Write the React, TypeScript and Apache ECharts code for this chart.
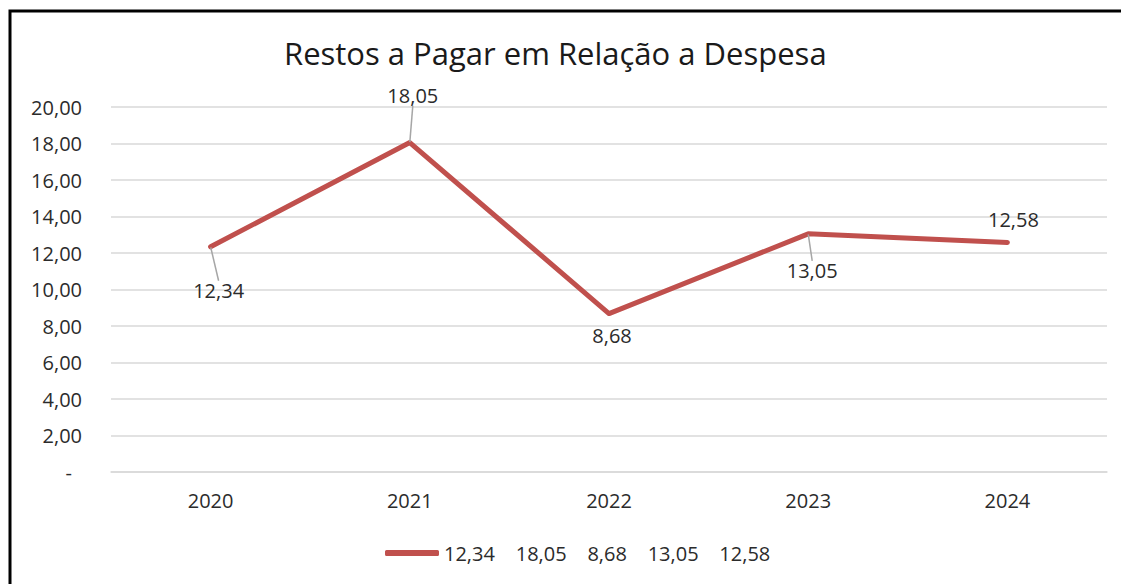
import React, { useEffect, useRef } from "react";
import * as echarts from "echarts";

const titleText = "Restos a Pagar em Relação a Despesa";
const categories = ["2020", "2021", "2022", "2023", "2024"];
const values = [12.34, 18.05, 8.68, 13.05, 12.58];
const seriesName = "12,34    18,05    8,68    13,05    12,58";
const yMin = 0;
const yMax = 20;
const yInterval = 2;

// label offsets (styling) relative to point
const labelOffsets = [
  { dx: 8, dy: 44, line: true },
  { dx: 3, dy: -47, line: true },
  { dx: 3, dy: 22, line: false },
  { dx: 4, dy: 37, line: true },
  { dx: 6, dy: -23, line: false },
];

const fmt = (v: number) => v.toFixed(2).replace(".", ",");
const FONT = "'Open Sans', 'Noto Sans', sans-serif";
const TXT = "#2b2b2b";
const FS = 20;

export default function App() {
  const ref = useRef<HTMLDivElement>(null);
  useEffect(() => {
    if (!ref.current) return;
    const chart = echarts.init(ref.current, undefined, { renderer: "svg" });
    chart.setOption({
      animation: false,
      backgroundColor: "#ffffff",
      textStyle: { fontFamily: FONT },
      title: {
        text: titleText,
        left: 279,
        top: 32,
        textStyle: { fontFamily: FONT, fontSize: 31, fontWeight: "normal", color: "#1a1a1a" },
      },
      graphic: [
        {
          type: "rect",
          shape: { x: 10, y: 11, width: 1300, height: 800 },
          style: { fill: "none", stroke: "#000000", lineWidth: 3 },
          silent: true,
        },
      ],
      legend: {
        bottom: 16,
        left: 380,
        icon: "roundRect",
        itemWidth: 54,
        itemHeight: 6,
        itemGap: 10,
        textStyle: { fontFamily: FONT, fontSize: FS, color: TXT },
        data: [seriesName],
      },
      grid: { left: 111, right: 14, top: 107, bottom: 112 },
      xAxis: {
        type: "category",
        data: categories,
        boundaryGap: true,
        axisLine: { show: true, lineStyle: { color: "#d9d9d9", width: 1.5 } },
        axisTick: { show: false },
        axisLabel: { fontFamily: FONT, fontSize: FS, color: TXT, margin: 18 },
      },
      yAxis: {
        type: "value",
        min: yMin,
        max: yMax,
        interval: yInterval,
        axisLine: { show: false },
        axisTick: { show: false },
        splitLine: { lineStyle: { color: "#d9d9d9", width: 1.5 } },
        axisLabel: {
          fontFamily: FONT,
          fontSize: FS,
          color: TXT,
          margin: 29,
          formatter: (v: number) => (v === 0 ? "{d|-}" : fmt(v)),
          rich: { d: { fontFamily: FONT, fontSize: FS, color: TXT, padding: [0, 10, 0, 0] } },
        },
      },
      series: [
        {
          name: seriesName,
          type: "line",
          data: values.map((v, i) => ({
            value: v,
            labelLine: { show: labelOffsets[i].line },
          })),
          symbol: "circle",
          symbolSize: 1,
          showSymbol: true,
          itemStyle: { color: "#c0504d" },
          lineStyle: { color: "#c0504d", width: 5, cap: "round", join: "round" },
          label: {
            show: true,
            position: "inside",
            formatter: (p: any) => fmt(p.value),
            fontFamily: FONT,
            fontSize: FS,
            color: TXT,
          },
          labelLine: { show: true, lineStyle: { color: "#a6a6a6", width: 1.5 } },
          labelLayout: (p: any) => ({
            dx: labelOffsets[p.dataIndex].dx,
            dy: labelOffsets[p.dataIndex].dy,
          }),
        },
      ],
    });
    return () => chart.dispose();
  }, []);
  return (
    <div
      ref={ref}
      style={{ position: "fixed", left: 0, top: 0, width: 1121, height: 584 }}
    />
  );
}
